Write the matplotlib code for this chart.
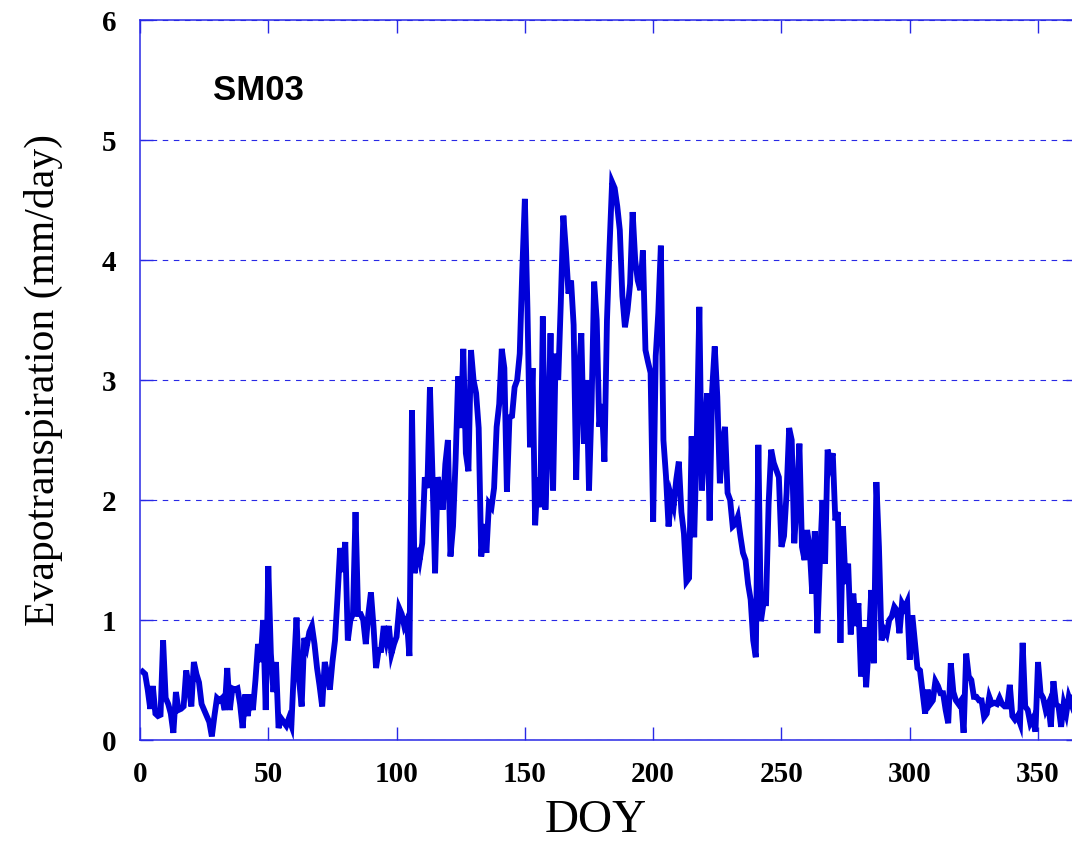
# daily evapotranspiration at station SM03 #

import numpy as np
import matplotlib.pyplot as plt

# daily ET (mm/day), DOY 1..365
et = [0.57, 0.55, 0.42, 0.26, 0.45, 0.22, 0.20, 0.21, 0.83, 0.35,
      0.30, 0.22, 0.06, 0.40, 0.25, 0.26, 0.28, 0.58, 0.45, 0.28,
      0.65, 0.55, 0.48, 0.30, 0.25, 0.20, 0.15, 0.03, 0.20, 0.35,
      0.33, 0.35, 0.25, 0.60, 0.25, 0.43, 0.42, 0.43, 0.30, 0.10,
      0.38, 0.20, 0.38, 0.25, 0.50, 0.80, 0.65, 1.00, 0.25, 1.45,
      0.72, 0.40, 0.65, 0.10, 0.18, 0.15, 0.12, 0.18, 0.12, 0.60,
      1.02, 0.50, 0.28, 0.85, 0.78, 0.90, 0.95, 0.80, 0.60, 0.45,
      0.28, 0.65, 0.55, 0.42, 0.65, 0.83, 1.20, 1.60, 1.40, 1.65,
      0.83, 1.00, 1.05, 1.90, 1.05, 1.05, 1.00, 0.80, 1.05, 1.23,
      0.95, 0.60, 0.75, 0.75, 0.95, 0.83, 0.95, 0.72, 0.80, 0.86,
      1.10, 1.05, 0.95, 1.00, 0.70, 2.75, 1.39, 1.60, 1.50, 1.64,
      2.19, 2.10, 2.94, 2.20, 1.39, 2.19, 2.10, 1.92, 2.30, 2.50,
      1.53, 1.78, 2.33, 3.03, 2.60, 3.26, 2.39, 2.24, 3.25, 3.00,
      2.89, 2.60, 1.53, 1.80, 1.56, 1.97, 1.94, 2.10, 2.61, 2.80,
      3.26, 3.10, 2.07, 2.69, 2.70, 2.94, 3.00, 3.22, 3.92, 4.51,
      3.60, 2.44, 3.10, 1.79, 2.19, 1.94, 3.53, 1.92, 2.50, 3.39,
      2.08, 3.22, 3.00, 3.64, 4.37, 4.08, 3.72, 3.83, 3.46, 2.17,
      3.03, 3.39, 2.47, 3.00, 2.08, 2.80, 3.82, 3.50, 2.61, 2.80,
      2.32, 3.50, 4.11, 4.65, 4.60, 4.45, 4.25, 3.70, 3.44, 3.58,
      3.80, 4.40, 4.00, 3.83, 3.75, 4.08, 3.25, 3.15, 3.06, 1.82,
      3.20, 3.56, 4.12, 2.50, 2.20, 1.78, 2.03, 1.95, 2.17, 2.32,
      1.90, 1.72, 1.32, 1.35, 2.53, 1.69, 2.50, 3.61, 2.08, 2.50,
      2.89, 1.83, 2.92, 3.28, 2.86, 2.14, 2.47, 2.61, 2.06, 2.00,
      1.78, 1.80, 1.86, 1.70, 1.56, 1.50, 1.30, 1.17, 0.83, 0.69,
      2.46, 0.99, 1.14, 1.14, 1.97, 2.42, 2.31, 2.25, 2.19, 1.61,
      1.70, 2.06, 2.60, 2.50, 1.64, 2.00, 2.47, 1.61, 1.50, 1.75,
      1.60, 1.22, 1.74, 0.89, 1.50, 2.00, 1.47, 2.42, 2.30, 2.39,
      1.83, 1.90, 0.81, 1.78, 1.30, 1.47, 0.88, 1.22, 0.95, 1.14,
      0.53, 0.94, 0.44, 0.78, 1.25, 0.64, 2.15, 1.61, 0.83, 0.92,
      0.88, 1.00, 1.03, 1.11, 1.08, 0.89, 1.14, 1.10, 1.15, 0.67,
      1.04, 0.82, 0.60, 0.58, 0.40, 0.22, 0.42, 0.30, 0.33, 0.49,
      0.45, 0.39, 0.39, 0.25, 0.14, 0.64, 0.40, 0.33, 0.30, 0.33,
      0.06, 0.72, 0.53, 0.50, 0.36, 0.36, 0.33, 0.33, 0.19, 0.22,
      0.36, 0.30, 0.31, 0.30, 0.35, 0.30, 0.28, 0.28, 0.46, 0.20,
      0.17, 0.20, 0.14, 0.81, 0.28, 0.25, 0.14, 0.18, 0.07, 0.65,
      0.39, 0.35, 0.25, 0.30, 0.11, 0.49, 0.30, 0.28, 0.11, 0.30,
      0.22, 0.36, 0.30, 0.38, 0.30]
doy = np.arange(1, len(et) + 1)

xticks = [0, 50, 100, 150, 200, 250, 300, 350]
yticks = [0, 1, 2, 3, 4, 5, 6]

blue = '#2828e6'

fig = plt.figure(figsize=(10.72, 8.44), dpi=100)
ax = fig.add_axes([0.1306, 0.1232, 0.876, 0.853])

ax.plot(doy, et, color='#0000d8', lw=4.2, solid_joinstyle='miter')

ax.set_xlim(0, 366)
ax.set_ylim(0, 6)
ax.set_xticks(xticks)
ax.set_yticks(yticks)
ax.yaxis.grid(True, color=blue, lw=0.8, linestyle=(0, (5, 5)))

for s in ax.spines.values():
    s.set_color(blue)
    s.set_linewidth(1.1)

ax.tick_params(direction='in', length=9.5, width=1.0, color=blue,
               top=True, right=True, labelsize=21)
ax.tick_params(axis='x', pad=15)
ax.tick_params(axis='y', pad=17)
for lab in ax.get_xticklabels() + ax.get_yticklabels():
    lab.set_fontfamily('Liberation Serif')
    lab.set_fontweight('bold')

ax.set_xlabel('DOY', fontsize=34, family='Liberation Serif')
ax.xaxis.set_label_coords(0.485, -0.083)
ax.set_ylabel('Evapotranspiration (mm/day)', fontsize=30,
              family='Liberation Serif', labelpad=28)

ax.text(0.078, 0.889, 'SM03', transform=ax.transAxes, fontsize=25,
        fontweight='bold', family='Liberation Sans')

plt.savefig('out.png', dpi=100)
